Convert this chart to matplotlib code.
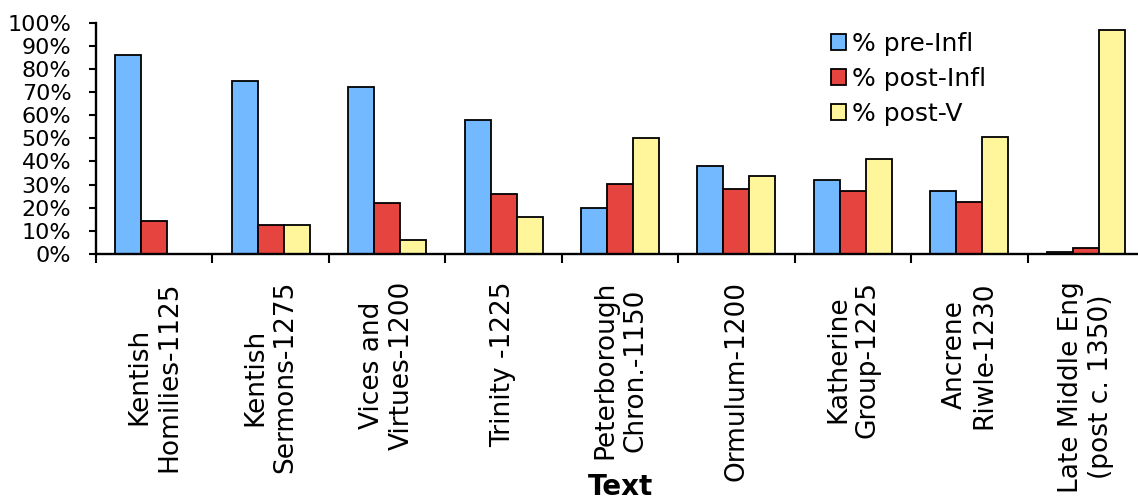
import matplotlib
matplotlib.use("Agg")
import matplotlib.pyplot as plt
import numpy as np
from matplotlib.ticker import FixedLocator, PercentFormatter

# data (percent)
texts = ["Kentish\nHomilies-1125", "Kentish\nSermons-1275", "Vices and\nVirtues-1200",
         "Trinity -1225", "Peterborough\nChron.-1150", "Ormulum-1200",
         "Katherine\nGroup-1225", "Ancrene\nRiwle-1230", "Late Middle Eng\n(post c. 1350)"]
pre_infl = [86, 75, 72, 58, 20, 38, 32, 27.4, 0.7]
post_infl = [14.4, 12.5, 22.2, 26.1, 30.3, 28.2, 27.1, 22.3, 2.5]
post_v = [0, 12.5, 6.2, 16, 50.2, 33.9, 41.2, 50.6, 97]
series_names = ["% pre-Infl", "% post-Infl", "% post-V"]
colors = ["#73B9FF", "#E5453E", "#FFF59B"]

plt.rcParams['font.family'] = ['DejaVu Sans']

W, H = 1138, 499
fig = plt.figure(figsize=(W / 100, H / 100), dpi=100)
# axes runs slightly past the right edge, as in the original crop
ax = fig.add_axes([96 / W, (H - 254) / H, 1048 / W, 231.3 / H])

x = np.arange(len(texts))
w = 0.223
for i, (vals, name, c) in enumerate(zip([pre_infl, post_infl, post_v], series_names, colors)):
    ax.bar(x + (i - 1) * w, np.array(vals) / 100, width=w, color=c,
           edgecolor="black", linewidth=1.3, label=name, zorder=2)

ax.set_xlim(-0.5, len(texts) - 0.5)
ax.set_ylim(0, 1)

ax.yaxis.set_major_locator(FixedLocator(np.arange(0, 1.01, 0.1)))
ax.yaxis.set_major_formatter(PercentFormatter(1.0, decimals=0))
ax.tick_params(axis="y", which="major", direction="out", length=4.8, width=1.5,
               pad=13, labelsize=16)

# category boundaries get the ticks, centers get the labels
ax.xaxis.set_major_locator(FixedLocator(np.arange(-0.5, len(texts), 1.0)))
ax.xaxis.set_minor_locator(FixedLocator(x))
ax.set_xticklabels([])
ax.set_xticklabels(texts, minor=True, rotation=90, ha="center", va="top",
                   multialignment="center")
ax.tick_params(axis="x", which="major", direction="out", length=6.2, width=1.5)
ax.tick_params(axis="x", which="minor", length=0, pad=19.5, labelsize=19)

for s in ["top", "right"]:
    ax.spines[s].set_visible(False)
for s in ["left", "bottom"]:
    ax.spines[s].set_linewidth(1.7)

ax.set_xlabel("Text", fontsize=20, fontweight="bold")
ax.xaxis.set_label_coords(0.5, -0.945)

leg = ax.legend(loc="upper left", bbox_to_anchor=((821 - 96) / 1048, 1.005),
                frameon=False, fontsize=18, handlelength=0.6, handleheight=0.6,
                handletextpad=0.25, labelspacing=0.44, borderaxespad=0)

fig.savefig("out.png", dpi=100)
